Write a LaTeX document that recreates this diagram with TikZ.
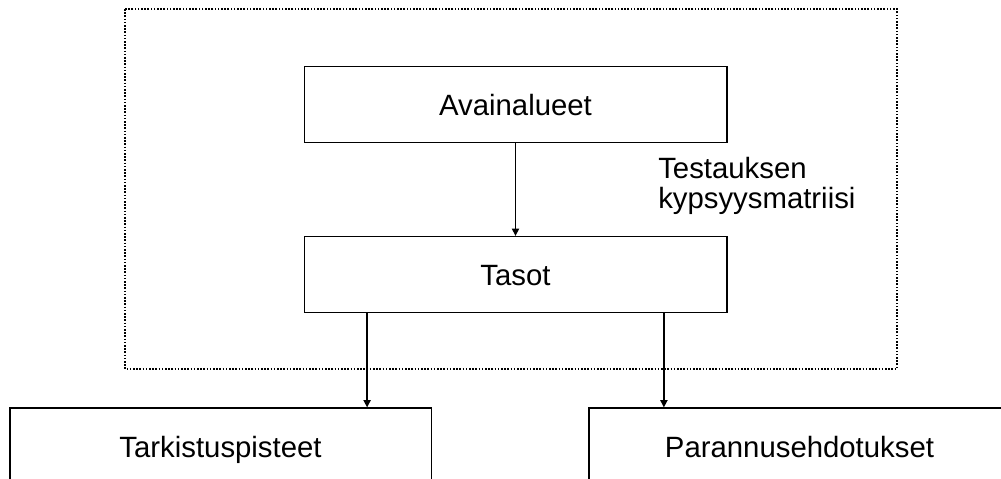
\documentclass[tikz,border=0pt]{standalone}
\usepackage{fontspec}
\setmainfont{Liberation Sans}
\usetikzlibrary{arrows.meta,calc}

\begin{document}
\begin{tikzpicture}[x=0.75pt,y=-0.75pt,
  laatikko/.style={draw,line width=1pt,minimum width=317pt,minimum height=57pt,inner sep=0pt,text height=15.8pt,text depth=0pt,font=\fontsize{22}{26}\selectfont},
  nuoli/.style={line width=1pt,-{Triangle[length=5.5pt,width=5.5pt]}}]
\useasboundingbox (0,0) rectangle (1001,479);
\draw[line width=0.8pt,dash pattern=on 1.2pt off 1.2pt] (125,9) rectangle (897,369);
\node[laatikko] (avain) at (515.5,104.5) {Avainalueet};
\node[laatikko] (tasot) at (515.5,274.5) {Tasot};
\node[anchor=north west,align=left,inner sep=0pt,font=\fontsize{22}{22.5}\selectfont] (matriisi) at (658,157) {Testauksen\\kypsyysmatriisi};
\node[laatikko,minimum width=316pt,minimum height=58.5pt] (tark) at (220.5,447) {Tarkistuspisteet};
\node[laatikko,minimum width=316pt,minimum height=58.5pt] (paran) at (799.5,447) {Parannusehdotukset};
\draw[nuoli] (avain) -- (tasot);
\coordinate (t1) at ($(tasot.south west)!0.15!(tasot.south east)$);
\coordinate (t2) at ($(tasot.south west)!0.85!(tasot.south east)$);
\draw[nuoli] (t1) -- (t1 |- tark.north);
\draw[nuoli] (t2) -- (t2 |- paran.north);
\end{tikzpicture}
\end{document}
